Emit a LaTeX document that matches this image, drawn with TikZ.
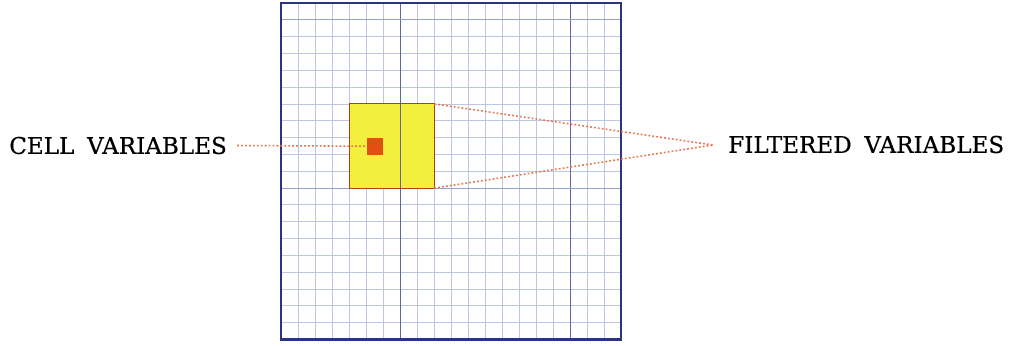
\documentclass[tikz,border=0pt]{standalone}
\usepackage{fontspec}
\setmainfont{DejaVu Serif}
\newfontfamily\labelfont{DejaVu Serif}[FakeBold=0.5]
\usepackage{tikz}
\usetikzlibrary{positioning, calc}
\usepackage{xcolor}

\definecolor{gridminor}{RGB}{190,198,226}
\definecolor{gridmid}{RGB}{150,160,205}
\definecolor{gridmajor}{RGB}{92,104,160}
\definecolor{framecol}{RGB}{42,52,128}
\definecolor{filtcol}{RGB}{242,240,60}
\definecolor{cellcol}{RGB}{226,78,20}
\definecolor{linkcol}{RGB}{226,120,80}

\begin{document}
\begin{tikzpicture}[x=0.025cm, y=-0.025cm, font=\labelfont\fontsize{16.4}{19}\selectfont,
    minorline/.style={draw=gridminor, line width=0.55pt},
    midline/.style={draw=gridmid, line width=0.55pt},
    majorline/.style={draw=gridmajor, line width=0.6pt},
    linkline/.style={draw=linkcol, line width=1.1pt, dash pattern=on 1.3pt off 1.5pt},
    label/.style={inner sep=0pt, anchor=west}]
        \useasboundingbox (0, 0) rectangle (1014, 345);

        % Сетка ячеек
        \foreach \i in {1,...,19} {
            \draw[minorline] (281.2+\i*17.0, 3) -- (281.2+\i*17.0, 339.5);
            \draw[minorline] (281.2, 3+\i*16.82) -- (621.2, 3+\i*16.82);
        }
        \foreach \i in {7,17} {
            \draw[majorline] (281.2+\i*17.0, 3) -- (281.2+\i*17.0, 339.5);
        }
        \foreach \j in {1,11} {
            \draw[midline] (281.2, 3+\j*16.82) -- (621.2, 3+\j*16.82);
        }

        % Область фильтра и ячейка
        \draw[fill=filtcol, draw=cellcol!80!black, line width=0.6pt] (349.2, 103.9) rectangle (434.2, 188.1);
        \draw[majorline] (400.2, 103.9) -- (400.2, 188.1);
        \node[fill=cellcol, minimum size=0.417cm, inner sep=0pt] (cell) at (375.1, 146.2) {};
        \coordinate (filtne) at (434.2, 103.9);
        \coordinate (filtse) at (434.2, 188.1);

        % Внешняя рамка
        \draw[framecol, line width=1.6pt] (281.2, 3) rectangle (621.2, 339.5);

        % Подписи
        \node[label] (cellvar) at (9, 145.5) {CELL\hspace{0.55em}VARIABLES};
        \node[label] (filtvar) at (728, 144.5) {FILTERED\hspace{0.55em}VARIABLES};
        \coordinate (meet) at (713, 145);

        % Связи
        \draw[linkline] ($(cellvar.east)+(10,0)$) -- (cell.west);
        \draw[linkline] (filtne) -- (meet);
        \draw[linkline] (filtse) -- (meet);
    \end{tikzpicture}
\end{document}
